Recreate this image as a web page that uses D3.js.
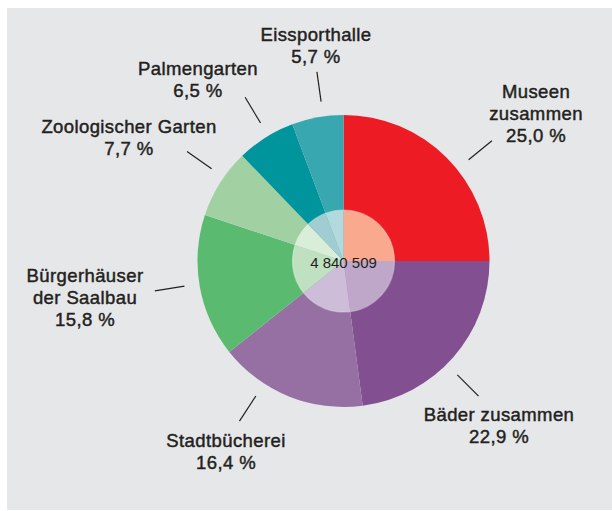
<!DOCTYPE html>
<html>
<head>
<meta charset="utf-8">
<script src="https://cdn.jsdelivr.net/npm/d3@7"></script>
<style>
  html, body { margin: 0; padding: 0; background: #fff; }
  svg { display: block; }
</style>
</head>
<body>
<svg id="chart" width="612" height="511"></svg>
<script>
// Anteile der Besucher (Prozent), im Uhrzeigersinn ab 12 Uhr
const categories = ["Museen zusammen", "Bäder zusammen", "Stadtbücherei", "Bürgerhäuser der Saalbau",
                    "Zoologischer Garten", "Palmengarten", "Eissporthalle"];
const shares = [25.0, 22.9, 16.4, 15.8, 7.7, 6.5, 5.7];
const labelLines = [["Museen", "zusammen"], ["Bäder zusammen"], ["Stadtbücherei"], ["Bürgerhäuser", "der Saalbau"],
                    ["Zoologischer Garten"], ["Palmengarten"], ["Eissporthalle"]];
const total = "4 840 509";

const colors = ["#ed1c24", "#824f91", "#9670a3", "#5aba70", "#a1d1a2", "#00959c", "#38a7b0"];
const innerColors = ["#f9a98d", "#bea7c9", "#cdbdd9", "#bfe1c2", "#d8eed8", "#a1ccd2", "#b2d9de"];

// Beschriftungs-Layout: Mitte x, erste Grundlinie y, Winkel der Hinweislinie (Grad)
const labelLayout = [
  { x: 536, y: 98, angle: 51 },
  { x: 499, y: 421, angle: 135 },
  { x: 226, y: 447, angle: 213 },
  { x: 85, y: 282, angle: 261 },
  { x: 129, y: 133, angle: 305 },
  { x: 198, y: 75, angle: 329 },
  { x: 316, y: 41, angle: 352 }
];

const width = 612, height = 511;
const cx = 343.5, cy = 261;
const outerR = 146, innerR = 51;
const lineH = 22;
const font = "Liberation Sans, Arial, Helvetica, sans-serif";

const svg = d3.select("#chart");

svg.append("rect")
  .attr("x", 7).attr("y", 8)
  .attr("width", width - 7).attr("height", 502)
  .attr("fill", "#e6e7e9");

const fmt = v => d3.format(".1f")(v).replace(".", ",") + " %";

const data = categories.map((c, i) => ({ name: c, value: shares[i], i: i }));

const pie = d3.pie().sort(null).value(d => d.value);
const arcs = pie(data);

const arc = d3.arc().innerRadius(0).outerRadius(outerR);
const arcInner = d3.arc().innerRadius(0).outerRadius(innerR);

const g = svg.append("g").attr("transform", `translate(${cx},${cy})`);

g.selectAll("path.slice")
  .data(arcs)
  .enter().append("path")
    .attr("class", "slice")
    .attr("d", arc)
    .attr("fill", d => colors[d.data.i]);

// heller Innenkreis
g.selectAll("path.inner")
  .data(arcs)
  .enter().append("path")
    .attr("class", "inner")
    .attr("d", arcInner)
    .attr("fill", d => innerColors[d.data.i]);

g.append("circle")
  .attr("r", innerR)
  .attr("fill", "none")
  .attr("stroke", "#ffffff")
  .attr("stroke-opacity", 0.35)
  .attr("stroke-width", 1.2);

g.append("text")
  .attr("x", 0).attr("y", 7)
  .attr("text-anchor", "middle")
  .attr("font-family", font)
  .attr("font-size", 15)
  .attr("fill", "#231f20")
  .text(total);

// Hinweislinien
const rad = a => a * Math.PI / 180;
g.selectAll("line.leader")
  .data(labelLayout)
  .enter().append("line")
    .attr("class", "leader")
    .attr("x1", d => 161 * Math.sin(rad(d.angle)))
    .attr("y1", d => -161 * Math.cos(rad(d.angle)))
    .attr("x2", d => 191 * Math.sin(rad(d.angle)))
    .attr("y2", d => -191 * Math.cos(rad(d.angle)))
    .attr("stroke", "#231f20")
    .attr("stroke-width", 1.2);

// Beschriftungen
const labels = svg.selectAll("text.label")
  .data(data)
  .enter().append("text")
    .attr("class", "label")
    .attr("text-anchor", "middle")
    .attr("font-family", font)
    .attr("font-size", 18.5)
    .attr("letter-spacing", 0.4)
    .attr("fill", "#231f20")
    .attr("stroke", "#231f20")
    .attr("stroke-width", 0.45);

labels.each(function(d) {
  const lay = labelLayout[d.i];
  const lines = labelLines[d.i].concat([fmt(d.value)]);
  d3.select(this).selectAll("tspan")
    .data(lines)
    .enter().append("tspan")
      .attr("x", lay.x)
      .attr("y", (t, k) => lay.y + k * lineH)
      .text(t => t);
});
</script>
</body>
</html>
